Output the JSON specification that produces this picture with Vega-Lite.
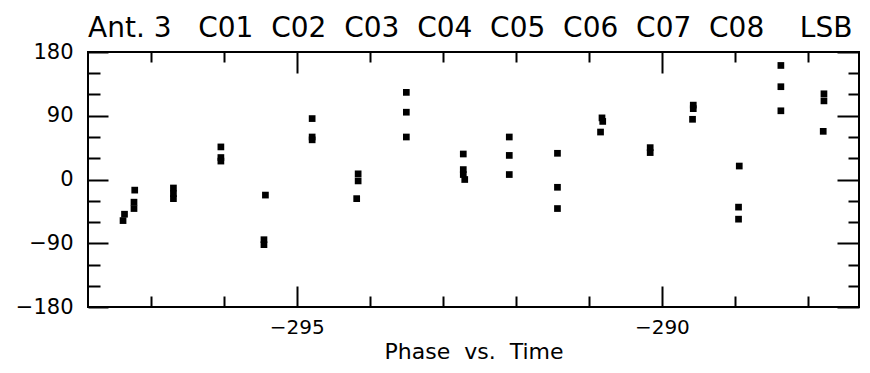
{
  "$schema": "https://vega.github.io/schema/vega-lite/v6.json",
  "width": 771,
  "height": 255,
  "autosize": {"type": "none"},
  "padding": {"left": 88, "top": 52, "right": 11, "bottom": 66},
  "background": "white",
  "config": {
    "view": {"stroke": "black", "strokeWidth": 2},
    "font": "DejaVu Sans",
    "axis": {
      "domain": false,
      "grid": false,
      "tickColor": "black",
      "tickWidth": 2,
      "labelColor": "black",
      "labelFont": "DejaVu Sans",
      "labelFontSize": 20,
      "titleColor": "black",
      "titleFont": "DejaVu Sans",
      "titleFontWeight": "normal"
    }
  },
  "title": {
    "text": "Ant.\u00a03\u00a0\u00a0\u00a0C01\u00a0\u00a0C02\u00a0\u00a0C03\u00a0\u00a0C04\u00a0\u00a0C05\u00a0\u00a0C06\u00a0\u00a0C07\u00a0\u00a0C08\u00a0\u00a0\u00a0\u00a0LSB",
    "anchor": "start",
    "frame": "group",
    "font": "DejaVu Sans",
    "fontSize": 28,
    "fontWeight": "normal",
    "color": "black",
    "offset": -2
  },
  "data": {
    "values": [
      {"time": -297.36, "phase": -49},
      {"time": -297.38, "phase": -58},
      {"time": -297.22, "phase": -15},
      {"time": -297.23, "phase": -32},
      {"time": -297.23, "phase": -41},
      {"time": -296.69, "phase": -12},
      {"time": -296.69, "phase": -20},
      {"time": -296.69, "phase": -27},
      {"time": -296.04, "phase": 46},
      {"time": -296.04, "phase": 31},
      {"time": -296.04, "phase": 26},
      {"time": -295.43, "phase": -22},
      {"time": -295.45, "phase": -85},
      {"time": -295.45, "phase": -92},
      {"time": -294.79, "phase": 86},
      {"time": -294.79, "phase": 60},
      {"time": -294.79, "phase": 56},
      {"time": -294.16, "phase": 8},
      {"time": -294.16, "phase": -2},
      {"time": -294.18, "phase": -27},
      {"time": -293.50, "phase": 123},
      {"time": -293.50, "phase": 95},
      {"time": -293.50, "phase": 60},
      {"time": -292.72, "phase": 36},
      {"time": -292.72, "phase": 14},
      {"time": -292.72, "phase": 7},
      {"time": -292.70, "phase": 0},
      {"time": -292.09, "phase": 60},
      {"time": -292.09, "phase": 34},
      {"time": -292.09, "phase": 7},
      {"time": -291.43, "phase": 37},
      {"time": -291.43, "phase": -11},
      {"time": -291.43, "phase": -41},
      {"time": -290.82, "phase": 87},
      {"time": -290.81, "phase": 82},
      {"time": -290.84, "phase": 67},
      {"time": -290.16, "phase": 45},
      {"time": -290.16, "phase": 38},
      {"time": -289.57, "phase": 105},
      {"time": -289.57, "phase": 100},
      {"time": -289.58, "phase": 85},
      {"time": -288.94, "phase": 19},
      {"time": -288.95, "phase": -39},
      {"time": -288.95, "phase": -56},
      {"time": -288.37, "phase": 161},
      {"time": -288.37, "phase": 131},
      {"time": -288.37, "phase": 97},
      {"time": -287.78, "phase": 121},
      {"time": -287.78, "phase": 111},
      {"time": -287.79, "phase": 68}
    ]
  },
  "layer": [
    {
      "mark": {"type": "square", "size": 45, "color": "black", "opacity": 1},
      "encoding": {
        "x": {
          "field": "time", "type": "quantitative",
          "scale": {"domain": [-297.86, -287.3], "nice": false, "zero": false},
          "axis": {"orient": "bottom", "values": [-295, -290], "format": "d", "tickSize": -21, "labelPadding": 31, "title": "Phase\u00a0\u00a0vs.\u00a0\u00a0Time", "titleFontSize": 22, "titlePadding": 4}
        },
        "y": {
          "field": "phase", "type": "quantitative",
          "scale": {"domain": [-180, 180], "nice": false, "zero": false},
          "axis": {"orient": "left", "values": [-180, -90, 0, 90, 180], "format": "d", "tickSize": -20, "labelPadding": 35, "labelFontSize": 21, "title": null}
        }
      }
    },
    {
      "mark": {"type": "point", "opacity": 0},
      "encoding": {
        "x": {"field": "time", "type": "quantitative",
          "axis": {"orient": "bottom", "values": [-297, -296, -294, -293, -292, -291, -289, -288], "tickSize": -11, "labels": false, "title": null}},
        "y": {"field": "phase", "type": "quantitative",
          "axis": {"orient": "left", "values": [-150, -120, -60, -30, 30, 60, 120, 150], "tickSize": -12, "labels": false, "title": null}}
      }
    },
    {
      "mark": {"type": "point", "opacity": 0},
      "encoding": {
        "x": {"field": "time", "type": "quantitative",
          "axis": {"orient": "top", "values": [-295, -290], "tickSize": -21, "labels": false, "title": null}},
        "y": {"field": "phase", "type": "quantitative",
          "axis": {"orient": "right", "values": [-180, -90, 0, 90, 180], "tickSize": -22, "labels": false, "title": null}}
      }
    },
    {
      "mark": {"type": "point", "opacity": 0},
      "encoding": {
        "x": {"field": "time", "type": "quantitative",
          "axis": {"orient": "top", "values": [-297, -296, -294, -293, -292, -291, -289, -288], "tickSize": -10, "labels": false, "title": null}},
        "y": {"field": "phase", "type": "quantitative",
          "axis": {"orient": "right", "values": [-150, -120, -60, -30, 30, 60, 120, 150], "tickSize": -11, "labels": false, "title": null}}
      }
    }
  ],
  "resolve": {"axis": {"x": "independent", "y": "independent"}}
}
